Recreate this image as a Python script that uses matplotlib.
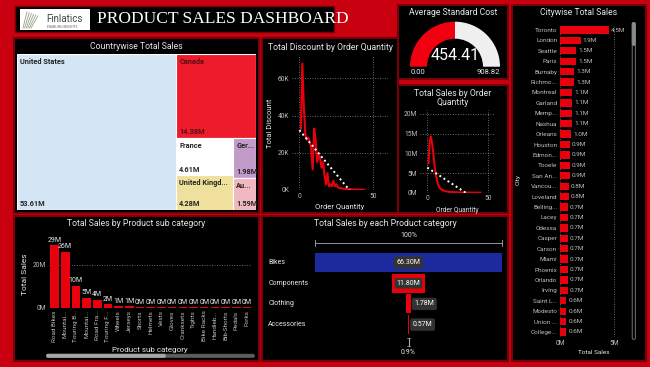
import numpy as np
import matplotlib.pyplot as plt
from matplotlib.patches import Rectangle, FancyBboxPatch, Wedge
from matplotlib.transforms import blended_transform_factory

W, H = 650, 367

# ---- data ----
country_names = ["United States", "Canada", "France", "United Kingd...", "Ger...", "Au..."]
country_sales = [53.61, 14.38, 4.61, 4.28, 1.98, 1.59]
country_colors = ["#d4e5f6", "#ee1b2d", "#ffffff", "#efe19d", "#c29bcb", "#f2b8c1"]

order_qty = list(range(1, 45))
discount_k = [33, 68, 45, 30, 27, 28, 26, 22, 11, 33, 27, 15, 19, 17, 12, 15, 8, 3, 9, 2,
              3, 2, 5, 2, 3, 1.5, 1, 1, 0.8, 0.7, 0.6, 0.5, 0.5, 0.4, 0.4, 0.3, 0.3, 0.3,
              0.2, 0.2, 0.2, 0.1, 0.1, 0.1]
sales_qty_m = [7.5, 13.0, 14.3, 12.5, 10.0, 7.0, 4.8, 3.2, 2.1, 1.4, 1.0, 0.75, 0.6, 0.5,
               0.4, 0.32, 0.27, 0.23, 0.2, 0.17, 0.15, 0.13, 0.11, 0.1, 0.09, 0.08, 0.07,
               0.06, 0.05, 0.05, 0.04, 0.04, 0.03, 0.03, 0.03, 0.02, 0.02, 0.02, 0.02, 0.01,
               0.01, 0.01, 0.01, 0.01]

avg_std_cost = 454.41
gauge_min = 0.00
gauge_max = 908.82

cities = ["Toronto", "London", "Seattle", "Paris", "Burnaby", "Richmo...", "Montreal",
          "Garland", "Memp...", "Nashua", "Orleans", "Houston", "Edmon...", "Tooele",
          "San An...", "Vancou...", "Loveland", "Belling...", "Lacey", "Odessa", "Casper",
          "Carson", "Miami", "Phoenix", "Orlando", "Irving", "Saint L...", "Modesto",
          "Union ...", "College..."]
city_sales = [4.5, 1.9, 1.5, 1.5, 1.3, 1.3, 1.1, 1.1, 1.1, 1.1, 1.0, 0.9, 0.9, 0.9, 0.9,
              0.8, 0.8, 0.7, 0.7, 0.7, 0.7, 0.7, 0.7, 0.7, 0.7, 0.7, 0.6, 0.6, 0.6, 0.6]

subcats = ["Road Bikes", "Mountai...", "Touring B...", "Mountai...", "Road Fra...",
           "Touring F...", "Wheels", "Jerseys", "Shorts", "Helmets", "Vests", "Gloves",
           "Cranksets", "Tights", "Bike Racks", "Handleb...", "Bib-Shorts", "Pedals", "Forks"]
subcat_sales = [29.4, 26.3, 10.3, 4.7, 3.8, 1.6, 0.7, 0.7, 0.4, 0.3, 0.2, 0.2, 0.2, 0.2,
                0.1, 0.1, 0.1, 0.1, 0.1]

categories = ["Bikes", "Components", "Clothing", "Accessories"]
category_sales = [66.30, 11.80, 1.78, 0.57]

RED = "#e8000d"
TXT = "#e6e6e6"
TICK = "#bdbdbd"
FONT = "Roboto"
plt.rcParams["font.family"] = [FONT, "DejaVu Sans"]


def box(x0, y0, x1, y1):
    return [x0 / W, 1 - y1 / H, (x1 - x0) / W, (y1 - y0) / H]


def style(ax):
    ax.set_facecolor("none")
    for s in ax.spines.values():
        s.set_visible(False)
    ax.tick_params(colors=TICK, labelsize=4.8, length=0, pad=2)


def squarify(areas, x, y, dx, dy):
    def worst(row, w):
        s = sum(row)
        return max(max(w * w * r / (s * s), s * s / (w * w * r)) for r in row)
    rects = []
    vals = list(areas)
    while vals:
        w = min(dx, dy)
        row = [vals[0]]
        i = 1
        while i < len(vals) and worst(row + [vals[i]], w) <= worst(row, w):
            row.append(vals[i])
            i += 1
        s = sum(row)
        if dx >= dy:
            cw = s / dy
            cy = y
            for r in row:
                rects.append((x, cy, cw, r / cw))
                cy += r / cw
            x += cw
            dx -= cw
        else:
            rh = s / dx
            cx = x
            for r in row:
                rects.append((cx, y, r / rh, rh))
                cx += r / rh
            y += rh
            dy -= rh
        vals = vals[i:]
    return rects


fig = plt.figure(figsize=(6.5, 3.67), dpi=100)
fig.patch.set_facecolor("#c8000f")
bg = fig.add_axes([0, 0, 1, 1])
bg.set_xlim(0, W)
bg.set_ylim(H, 0)
bg.axis("off")

panels = [(14, 38, 259, 213), (262, 38, 398, 213), (398, 5, 508, 79), (398, 85, 508, 213),
          (512, 5, 646, 361), (14, 216, 259, 361), (262, 216, 508, 361)]
for x0, y0, x1, y1 in panels:
    bg.add_patch(Rectangle((x0, y0), x1 - x0, y1 - y0, fc="black", ec="#7a0008", lw=1.5))

# header
bg.add_patch(Rectangle((15, 6), 319, 26, fc="black", ec="#7a0008", lw=1.0))
bg.add_patch(Rectangle((20, 9), 70, 21, fc="white", ec="none"))
for k in range(6):
    bg.plot([23 + k * 1.6, 27 + k * 2.2], [28, 12 + k * 0.8], color="#9aa08a", lw=0.6)
bg.text(46, 19.5, "Finlatics", color="#444444", fontsize=7, va="center", ha="left")
bg.text(47, 27, "ENABLING INSIGHTS", color="#666666", fontsize=2.3, va="center", ha="left")
bg.text(97, 19, "PRODUCT SALES DASHBOARD", color="white", fontsize=12.5,
        family="Liberation Serif", va="center", ha="left")

# panel titles
title_kw = dict(color=TXT, fontsize=6.2, ha="center", va="center")
bg.text(136, 46.5, "Countrywise Total Sales", **title_kw)
bg.text(330, 48, "Total Discount by Order Quantity", **title_kw)
bg.text(453, 12.5, "Average Standard Cost", **title_kw)
bg.text(453, 98, "Total Sales by Order\nQuantity", linespacing=1.1, **title_kw)
bg.text(579, 12.5, "Citywise Total Sales", **title_kw)
bg.text(136, 223.5, "Total Sales by Product sub category", **title_kw)
bg.text(385, 223.5, "Total Sales by each Product category", **title_kw)

# ---- treemap ----
tm = fig.add_axes(box(17, 54, 256, 210))
tw, th = 239, 156
tm.set_xlim(0, tw)
tm.set_ylim(th, 0)
tm.axis("off")
total = sum(country_sales)
areas = [v / total * tw * th for v in country_sales]
for (x, y, w, h), name, v, c in zip(squarify(areas, 0, 0, tw, th), country_names,
                                     country_sales, country_colors):
    tm.add_patch(Rectangle((x, y), w, h, fc=c, ec="white", lw=0.8))
    tc = "#5a0a10" if c == "#ee1b2d" else "#252423"
    tm.text(x + 3, y + 4, name, color=tc, fontsize=5.3, fontweight="bold", va="top", ha="left")
    tm.text(x + 3, y + h - 1.5, f"{v:.2f}M", color=tc, fontsize=5.3, fontweight="bold",
            va="bottom", ha="left")

# ---- total discount by order quantity ----
ax1 = fig.add_axes(box(292, 56, 388, 190))
style(ax1)
ax1.plot(order_qty, discount_k, color=RED, lw=1.5, zorder=3)
b1, a1 = np.polyfit(order_qty, discount_k, 1)
xt = np.array([0, max(order_qty)])
ax1.plot(xt, a1 + b1 * xt, color="white", lw=1.4, ls=(0, (1, 1.5)), zorder=4)
ax1.set_xlim(-5, 60)
ax1.set_ylim(0, 72)
ax1.set_yticks([0, 20, 40, 60])
ax1.set_yticklabels([f"{v}K" for v in [0, 20, 40, 60]])
ax1.set_xticks([0, 50])
ax1.grid(True, color="#8a8a8a", ls=(0, (1, 2)), lw=0.6)
ax1.set_xlabel("Order Quantity", color=TXT, fontsize=5.5, labelpad=3)
ax1.set_ylabel("Total Discount", color=TXT, fontsize=5.5, labelpad=3)

# ---- total sales by order quantity ----
ax2 = fig.add_axes(box(420, 110, 495, 192.7))
style(ax2)
ax2.plot(order_qty, sales_qty_m, color=RED, lw=1.5, zorder=3)
b2, a2 = np.polyfit(order_qty, sales_qty_m, 1)
ax2.plot(xt, a2 + b2 * xt, color="white", lw=1.4, ls=(0, (1, 1.5)), zorder=4)
ax2.set_xlim(-6, 56)
ax2.set_ylim(0, 21)
ax2.set_yticks([0, 5, 10, 15, 20])
ax2.set_yticklabels([f"{v}M" for v in [0, 5, 10, 15, 20]])
ax2.set_xticks([0, 50])
ax2.grid(True, color="#8a8a8a", ls=(0, (1, 2)), lw=0.6)
ax2.set_xlabel("Order Quantity", color=TXT, fontsize=4.8, labelpad=3)

# ---- gauge ----
g = fig.add_axes(box(398, 5, 508, 79))
g.set_xlim(0, 110)
g.set_ylim(0, 74)
g.axis("off")
frac = (avg_std_cost - gauge_min) / (gauge_max - gauge_min)
split = 180 - 180 * frac
g.add_patch(Wedge((57, 12.3), 45, split, 180, width=17, fc="#f20010", ec="none"))
g.add_patch(Wedge((57, 12.3), 45, 0, split, width=17, fc="#efefef", ec="none"))
g.text(57, 16.5, f"{avg_std_cost:.2f}", color="white", fontsize=11.5, ha="center",
       va="bottom")
g.text(20, 7, f"{gauge_min:.2f}", color=TXT, fontsize=5.5, ha="center", va="center")
g.text(90, 7, f"{gauge_max:.2f}", color=TXT, fontsize=5.5, ha="center", va="center")

# ---- citywise ----
ax3 = fig.add_axes(box(560, 24.8, 628, 337.2))
style(ax3)
yc = np.arange(len(cities))
ax3.barh(yc, city_sales, height=0.7, color=RED, zorder=3)
ax3.set_ylim(len(cities) - 0.5, -0.5)
ax3.set_xlim(0, 6.3)
ax3.set_yticks(yc)
ax3.set_yticklabels(cities, fontsize=4.6, color=TICK)
ax3.set_xticks([0, 5])
ax3.set_xticklabels(["0M", "5M"])
ax3.grid(True, axis="x", color="#8a8a8a", ls=(0, (1, 2)), lw=0.6)
for yi, v in zip(yc, city_sales):
    ax3.text(v + 0.2, yi, f"{v:.1f}M", color=TICK, fontsize=4.6, va="center", ha="left")
ax3.set_xlabel("Total Sales", color=TXT, fontsize=4.6, labelpad=2)
bg.text(518, 180, "City", color=TXT, fontsize=4.6, rotation=90, ha="center", va="center")
bg.add_patch(FancyBboxPatch((632.5, 23), 2.5, 316, boxstyle="round,pad=0.3,rounding_size=1.2",
                            fc="none", ec="#8a8a8a", lw=0.6))
bg.add_patch(FancyBboxPatch((632.5, 23), 2.5, 22, boxstyle="round,pad=0.3,rounding_size=1.2",
                            fc="#8a8a8a", ec="#8a8a8a", lw=0.6))

# ---- sub category ----
ax4 = fig.add_axes(box(49.2, 240, 252.3, 307.7))
style(ax4)
xc = np.arange(len(subcats))
ax4.bar(xc, subcat_sales, width=0.8, color=RED, zorder=3)
ax4.set_xlim(-0.5, len(subcats) - 0.5)
ax4.set_ylim(0, 31.7)
ax4.set_yticks([0, 20])
ax4.set_yticklabels(["0M", "20M"])
ax4.set_xticks(xc)
ax4.set_xticklabels(subcats, rotation=90, fontsize=4.6, color=TICK)
ax4.grid(True, axis="y", color="#8a8a8a", ls=(0, (1, 2)), lw=0.6)
for xi, v in zip(xc, subcat_sales):
    ax4.text(xi, v + 0.6, f"{v:.0f}M", color=TXT, fontsize=5, ha="center", va="bottom")
ax4.set_ylabel("Total Sales", color=TXT, fontsize=6, labelpad=4)
bg.text(150, 350, "Product sub category", color=TXT, fontsize=5.8, ha="center", va="center")
bg.add_patch(FancyBboxPatch((47, 354.5), 207, 2.5, boxstyle="round,pad=0.3,rounding_size=1.2",
                            fc="#5e5e5e", ec="#5e5e5e", lw=0.6))
bg.add_patch(FancyBboxPatch((47, 354.5), 118, 2.5, boxstyle="round,pad=0.3,rounding_size=1.2",
                            fc="#a8a8a8", ec="#a8a8a8", lw=0.6))

# ---- funnel ----
ax5 = fig.add_axes(box(315, 252.2, 502, 335))
ax5.axis("off")
vmax = max(category_sales)
yf = np.arange(len(categories))
fcolors = ["#1c2a9e"] + [RED] * (len(categories) - 1)
ax5.barh(yf, category_sales, left=[-v / 2 for v in category_sales], height=0.92,
         color=fcolors)
ax5.set_xlim(-vmax / 2, vmax / 2)
ax5.set_ylim(len(categories) - 0.5, -0.5)
tr = blended_transform_factory(ax5.transAxes, ax5.transData)
for yi, (name, v) in enumerate(zip(categories, category_sales)):
    ax5.text(-0.25, yi, name, transform=tr, color=TXT, fontsize=5, ha="left", va="center")
    inside = v / vmax > 0.15
    xpos = 0 if inside else v / 2 + 1.2
    ha = "center" if inside else "left"
    edge = RED if name == "Components" else "#3a3a3a"
    ax5.text(xpos, yi, f"{v:.2f}M", color="white", fontsize=5, ha=ha, va="center",
             bbox=dict(boxstyle="round,pad=0.35,rounding_size=0.3", fc="#333333",
                       ec=edge, lw=1.0 if name == "Components" else 0.3))
# top 100% bracket
ax5.plot([-vmax / 2, vmax / 2], [-0.94, -0.94], color="#aaaaaa", lw=0.6, clip_on=False)
for xe in (-vmax / 2, vmax / 2):
    ax5.plot([xe, xe], [-1.1, -0.78], color="#aaaaaa", lw=0.6, clip_on=False)
ax5.text(0, -1.3, "100%", color=TXT, fontsize=5, ha="center", va="center")
# bottom bracket
vl = category_sales[-1]
ax5.plot([0, 0], [3.65, 4.05], color="#aaaaaa", lw=0.8, clip_on=False)
for ye in (3.65, 4.05):
    ax5.plot([-vl / 2 - 0.4, vl / 2 + 0.4], [ye, ye], color="#aaaaaa", lw=0.5, clip_on=False)
ax5.text(0, 4.35, f"{vl / vmax * 100:.1f}%", color=TXT, fontsize=5, ha="center", va="center")

fig.savefig("out.png", dpi=100, facecolor=fig.get_facecolor())
